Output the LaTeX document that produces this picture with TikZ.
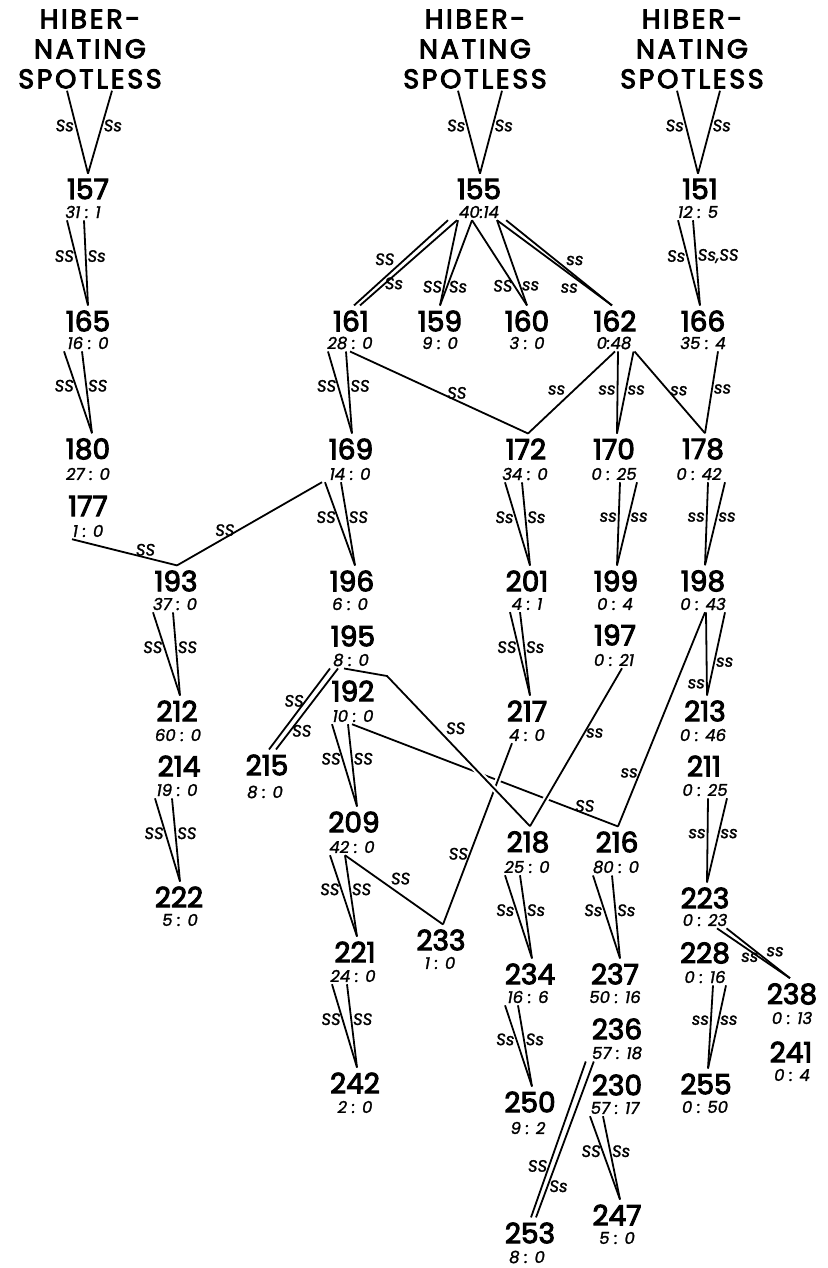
\documentclass[tikz,border=0pt]{standalone}
\usepackage{fontspec}
\newfontfamily\lettering[FakeBold=3.5]{Poppins}
\newfontfamily\slantfont[FakeBold=1.5]{Poppins}
\newfontfamily\titlefont[LetterSpace=10, FakeBold=3.5]{Poppins}
\usepackage{tikz}
\begin{document}
\begin{tikzpicture}[
    x=1pt, y=-1pt,
    num/.style={font=\lettering\fontsize{28}{28}\selectfont, inner sep=5pt},
    ratio/.style={font=\slantfont\itshape\fontsize{16.5}{16.5}\selectfont, inner sep=2pt},
    lab/.style={font=\slantfont\itshape\fontsize{16.5}{16.5}\selectfont, inner sep=1pt},
    title/.style={font=\titlefont\fontsize{27}{30}\selectfont, align=center, inner sep=2pt},
    link/.style={line width=1.8pt},
    over/.style={preaction={draw=white, line width=6pt, shorten <=12pt, shorten >=12pt}}
  ]
    \useasboundingbox (0,0) rectangle (827,1268);
    % founders
    \node[title] (T1) at (90,49) {HIBER-\\NATING\\SPOTLESS};
    \node[title] (T2) at (475,49) {HIBER-\\NATING\\SPOTLESS};
    \node[title] (T3) at (692,49) {HIBER-\\NATING\\SPOTLESS};
    % litters
    \node[num] (n157) at (88,189) {157};
    \node[num] (n155) at (479,189) {155};
    \node[num] (n151) at (700,189) {151};
    \node[num] (n165) at (88,321) {165};
    \node[num] (n161) at (351,321) {161};
    \node[num] (n159) at (440,321) {159};
    \node[num] (n160) at (527,321) {160};
    \node[num] (n162) at (615,321) {162};
    \node[num] (n166) at (703,321) {166};
    \node[num] (n180) at (88,449) {180};
    \node[num] (n169) at (351,449) {169};
    \node[num] (n172) at (526,449) {172};
    \node[num] (n170) at (614,449) {170};
    \node[num] (n178) at (703,449) {178};
    \node[num] (n177) at (88,506) {177};
    \node[num] (n193) at (176,581) {193};
    \node[num] (n196) at (352,581) {196};
    \node[num] (n201) at (527,581) {201};
    \node[num] (n199) at (616,581) {199};
    \node[num] (n198) at (703,581) {198};
    \node[num] (n195) at (353,636) {195};
    \node[num] (n197) at (615,635) {197};
    \node[num] (n192) at (353,691) {192};
    \node[num] (n212) at (177,711) {212};
    \node[num] (n217) at (527,711) {217};
    \node[num] (n213) at (705,711) {213};
    \node[num] (n214) at (179,766) {214};
    \node[num] (n215) at (267,765) {215};
    \node[num] (n211) at (704,766) {211};
    \node[num] (n209) at (354,822) {209};
    \node[num] (n218) at (528,842) {218};
    \node[num] (n216) at (617,842) {216};
    \node[num] (n222) at (179,897) {222};
    \node[num] (n223) at (705,898) {223};
    \node[num] (n233) at (441,940) {233};
    \node[num] (n221) at (355,952) {221};
    \node[num] (n228) at (705,953) {228};
    \node[num] (n234) at (530,974) {234};
    \node[num] (n237) at (615,974) {237};
    \node[num] (n238) at (792,994) {238};
    \node[num] (n236) at (617,1029) {236};
    \node[num] (n241) at (791,1052) {241};
    \node[num] (n242) at (355,1083) {242};
    \node[num] (n250) at (530,1102) {250};
    \node[num] (n230) at (617,1085) {230};
    \node[num] (n255) at (706,1084) {255};
    \node[num] (n247) at (617,1215) {247};
    \node[num] (n253) at (530,1233) {253};
    % ratios
    \node[ratio] (r157) at (83,212) {31 : 1};
    \node[ratio] (r155) at (479,212) {40:14};
    \node[ratio] (r151) at (698,212) {12 : 5};
    \node[ratio] (r165) at (88,343) {16 : 0};
    \node[ratio] (r161) at (350,343) {28 : 0};
    \node[ratio] (r159) at (440,343) {9 : 0};
    \node[ratio] (r160) at (527,343) {3 : 0};
    \node[ratio] (r162) at (614,343) {0:48};
    \node[ratio] (r166) at (703,343) {35 : 4};
    \node[ratio] (r180) at (88,474) {27 : 0};
    \node[ratio] (r169) at (350,474) {14 : 0};
    \node[ratio] (r172) at (525,474) {34 : 0};
    \node[ratio] (r170) at (614,474) {0 : 25};
    \node[ratio] (r178) at (699,474) {0 : 42};
    \node[ratio] (r177) at (88,531) {1 : 0};
    \node[ratio] (r193) at (175,604) {37 : 0};
    \node[ratio] (r196) at (350,604) {6 : 0};
    \node[ratio] (r201) at (527,604) {4 : 1};
    \node[ratio] (r199) at (615,604) {0 : 4};
    \node[ratio] (r198) at (703,604) {0 : 43};
    \node[ratio] (r195) at (351,660) {8 : 0};
    \node[ratio] (r197) at (614,660) {0 : 21};
    \node[ratio] (r192) at (353,716) {10 : 0};
    \node[ratio] (r212) at (178,735) {60 : 0};
    \node[ratio] (r217) at (527,735) {4 : 0};
    \node[ratio] (r213) at (703,735) {0 : 46};
    \node[ratio] (r214) at (177,790) {19 : 0};
    \node[ratio] (r215) at (265,792) {8 : 0};
    \node[ratio] (r211) at (705,790) {0 : 25};
    \node[ratio] (r209) at (352,847) {42 : 0};
    \node[ratio] (r218) at (527,867) {25 : 0};
    \node[ratio] (r216) at (616,867) {80 : 0};
    \node[ratio] (r222) at (180,920) {5 : 0};
    \node[ratio] (r223) at (705,920) {0 : 23};
    \node[ratio] (r233) at (440,963) {1 : 0};
    \node[ratio] (r221) at (353,976) {24 : 0};
    \node[ratio] (r228) at (705,977) {0 : 16};
    \node[ratio] (r234) at (528,997) {16 : 6};
    \node[ratio] (r237) at (615,997) {50 : 16};
    \node[ratio] (r238) at (792,1018) {0 : 13};
    \node[ratio] (r236) at (617,1053) {57 : 18};
    \node[ratio] (r241) at (792,1075) {0 : 4};
    \node[ratio] (r242) at (355,1107) {2 : 0};
    \node[ratio] (r250) at (528,1128) {9 : 2};
    \node[ratio] (r230) at (615,1108) {57 : 17};
    \node[ratio] (r255) at (705,1107) {0 : 50};
    \node[ratio] (r247) at (617,1238) {5 : 0};
    \node[ratio] (r253) at (527,1257) {8 : 0};
    % founders to first litters
    \draw[link] ([xshift=-23pt]T1.south) -- node[lab, left, pos=.42] (a157) {Ss} (n157.north);
    \draw[link] ([xshift=22pt]T1.south) -- node[lab, right, pos=.42] (b157) {Ss} (n157.north);
    \draw[link] ([xshift=-17pt]T2.south) -- node[lab, left, pos=.42] (a155) {Ss} ([xshift=1pt]n155.north);
    \draw[link] ([xshift=27pt]T2.south) -- node[lab, right, pos=.42] (b155) {Ss} ([xshift=1pt]n155.north);
    \draw[link] ([xshift=-15pt]T3.south) -- node[lab, left, pos=.42] (a151) {Ss} ([xshift=-2pt]n151.north);
    \draw[link] ([xshift=28pt]T3.south) -- node[lab, right, pos=.42] (b151) {Ss} ([xshift=-2pt]n151.north);
    % left line
    \draw[link] ([xshift=-16pt]r157.south) -- node[lab, left, pos=.42] (a165) {SS} (n165.north);
    \draw[link] ([xshift=1pt]r157.south) -- node[lab, right, pos=.42] (b165) {Ss} (n165.north);
    \draw[link] ([xshift=-24pt]r165.south) -- node[lab, left, pos=.42] (a180) {SS} ([xshift=4pt]n180.north);
    \draw[link] ([xshift=-6pt]r165.south) -- node[lab, right, pos=.42] (b180) {SS} ([xshift=4pt]n180.north);
    \draw[link] ([xshift=-16pt]r177.south) -- node[lab, above, pos=.7] (a193) {SS} ([xshift=1pt]n193.north);
    \draw[link] ([xshift=-28pt]r169.south) -- node[lab, above, pos=.67] (b193) {SS} ([xshift=1pt]n193.north);
    \draw[link] ([xshift=-22pt]r193.south) -- node[lab, left, pos=.42] (a212) {SS} ([xshift=3pt]n212.north);
    \draw[link] ([xshift=-2pt]r193.south) -- node[lab, right, pos=.42] (b212) {SS} ([xshift=3pt]n212.north);
    \draw[link] ([xshift=-22pt]r214.south) -- node[lab, left, pos=.42] (a222) {SS} ([xshift=1pt]n222.north);
    \draw[link] ([xshift=-5pt]r214.south) -- node[lab, right, pos=.42] (b222) {SS} ([xshift=1pt]n222.north);
    % offspring of 155
    \draw[link] ([xshift=-31pt]r155.south) -- node[lab, above left, pos=.55] (a161) {SS} ([xshift=3pt]n161.north);
    \draw[link] ([xshift=-22pt]r155.south) -- node[lab, below, pos=.65] (b161) {Ss} ([xshift=9pt]n161.north);
    \draw[link] ([xshift=-21pt]r155.south) -- node[lab, left, pos=.78] (a159) {SS} (n159.north);
    \draw[link] ([xshift=-7pt]r155.south) -- node[lab, right, pos=.78] (b159) {Ss} (n159.north);
    \draw[link] ([xshift=-7pt]r155.south) -- node[lab, left, pos=.77] (a160) {SS} (n160.north);
    \draw[link] ([xshift=18pt]r155.south) -- node[lab, right, pos=.77] (b160) {ss} (n160.north);
    \draw[link] ([xshift=18pt]r155.south) -- node[lab, below left, pos=.72] (a162) {ss} ([xshift=-3pt]n162.north);
    \draw[link] ([xshift=5pt]r155.south east) -- node[lab, above right, pos=.55] (b162) {ss} ([xshift=-3pt]n162.north);
    \draw[link] ([xshift=-20pt]r151.south) -- node[lab, left, pos=.42] (a166) {Ss} ([xshift=-3pt]n166.north);
    \draw[link] ([xshift=-5pt]r151.south) -- node[lab, right, pos=.42] (b166) {Ss,SS} ([xshift=-3pt]n166.north);
    % third row
    \draw[link] ([xshift=-22pt]r161.south) -- node[lab, left, pos=.42] (a169) {SS} ([xshift=1pt]n169.north);
    \draw[link] ([xshift=-4pt]r161.south) -- node[lab, right, pos=.42] (b169) {SS} ([xshift=1pt]n169.north);
    \draw[link] (r161.south) -- node[lab, above, pos=.6] (a172) {SS} ([xshift=2pt]n172.north);
    \draw[link] ([xshift=1pt]r162.south) -- node[lab, above left, pos=.55] (b172) {ss} ([xshift=2pt]n172.north);
    \draw[link] ([xshift=4pt]r162.south) -- node[lab, left, pos=.47] (a170) {ss} ([xshift=3pt]n170.north);
    \draw[link] (r162.south east) -- node[lab, right, pos=.47] (b170) {ss} ([xshift=3pt]n170.north);
    \draw[link] ([xshift=1pt]r162.south east) -- node[lab, right, pos=.48] (a178) {ss} ([xshift=2pt]n178.north);
    \draw[link] ([xshift=15pt]r166.south) -- node[lab, right, pos=.46] (b178) {ss} ([xshift=2pt]n178.north);
    % fourth row
    \draw[link] ([xshift=-25pt]r169.south) -- node[lab, left, pos=.42] (a196) {SS} ([xshift=3pt]n196.north);
    \draw[link] ([xshift=-9pt]r169.south) -- node[lab, right, pos=.42] (b196) {SS} ([xshift=3pt]n196.north);
    \draw[link] ([xshift=-20pt]r172.south) -- node[lab, left, pos=.42] (a201) {Ss} ([xshift=3pt]n201.north);
    \draw[link] ([xshift=-3pt]r172.south) -- node[lab, right, pos=.42] (b201) {Ss} ([xshift=3pt]n201.north);
    \draw[link] ([xshift=6pt]r170.south) -- node[lab, left, pos=.42] (a199) {ss} ([xshift=1pt]n199.north);
    \draw[link] ([xshift=23pt]r170.south) -- node[lab, right, pos=.42] (b199) {ss} ([xshift=1pt]n199.north);
    \draw[link] ([xshift=9pt]r178.south) -- node[lab, left, pos=.42] (a198) {ss} ([xshift=2pt]n198.north);
    \draw[link] ([xshift=26pt]r178.south) -- node[lab, right, pos=.42] (b198) {ss} ([xshift=2pt]n198.north);
    % middle
    \draw[link] ([xshift=-17pt]r201.south) -- node[lab, left, pos=.42] (a217) {SS} ([xshift=3pt]n217.north);
    \draw[link] ([xshift=-7pt]r201.south) -- node[lab, right, pos=.42] (b217) {Ss} ([xshift=3pt]n217.north);
    \draw[link] ([xshift=3pt]r198.south) -- node[lab, left, pos=.86] (a213) {ss} ([xshift=2pt]n213.north);
    \draw[link] ([xshift=22pt]r198.south) -- node[lab, right, pos=.6] (b213) {ss} ([xshift=2pt]n213.north);
    \draw[link] ([xshift=2pt]r198.south) -- node[lab, left, pos=.75] (b216) {ss} ([xshift=1pt]n216.north);
    \draw[link] ([xshift=-21pt]r195.south) -- node[lab, left, pos=.4] (a215) {SS} ([xshift=2pt]n215.north);
    \draw[link] ([xshift=-13pt]r195.south) -- node[lab, right, pos=.77] (b215) {SS} ([xshift=9pt]n215.north);
    \draw[link] ([xshift=-21pt]r192.south) -- node[lab, left, pos=.42] (a209) {SS} ([xshift=3pt]n209.north);
    \draw[link] ([xshift=-5pt]r192.south) -- node[lab, right, pos=.42] (b209) {SS} ([xshift=3pt]n209.north);
    % crossing lines
    \coordinate (k195) at (387,676);
    \draw[link] ([xshift=-1pt]r192.south) -- node[lab, above, pos=.875] (a216) {SS} ([xshift=1pt]n216.north);
    \draw[link, over] ([xshift=2pt]n233.north) -- node[lab, left, pos=.39] (a217x) {SS} ([xshift=-15pt]r217.south);
    \draw[link, over] ([xshift=-7pt]r195.south) -- (k195) -- node[lab, above right, pos=.4] (a218) {SS} ([xshift=2pt]n218.north);
    \draw[link, over] ([xshift=8pt]r197.south) -- node[lab, right, pos=.41] (b218) {ss} ([xshift=2pt]n218.north);
    % lower part
    \draw[link] ([xshift=-22pt]r209.south) -- node[lab, left, pos=.42] (a221) {SS} ([xshift=2pt]n221.north);
    \draw[link] ([xshift=-7pt]r209.south) -- node[lab, right, pos=.42] (b221) {SS} ([xshift=2pt]n221.north);
    \draw[link] ([xshift=-7pt]r209.south) -- node[lab, above right, pos=.45] (a233) {SS} ([xshift=2pt]n233.north);
    \draw[link] ([xshift=-21pt]r221.south) -- node[lab, left, pos=.42] (a242) {SS} ([xshift=2pt]n242.north);
    \draw[link] ([xshift=-6pt]r221.south) -- node[lab, right, pos=.42] (b242) {SS} ([xshift=2pt]n242.north);
    \draw[link] ([xshift=-22pt]r218.south) -- node[lab, left, pos=.42] (a234) {Ss} ([xshift=2pt]n234.north);
    \draw[link] ([xshift=-7pt]r218.south) -- node[lab, right, pos=.42] (b234) {Ss} ([xshift=2pt]n234.north);
    \draw[link] ([xshift=-23pt]r216.south) -- node[lab, left, pos=.42] (a237) {Ss} ([xshift=5pt]n237.north);
    \draw[link] ([xshift=-4pt]r216.south) -- node[lab, right, pos=.42] (b237) {Ss} ([xshift=5pt]n237.north);
    \draw[link] ([xshift=3pt]r211.south) -- node[lab, left, pos=.42] (a223) {ss} ([xshift=2pt]n223.north);
    \draw[link] ([xshift=22pt]r211.south) -- node[lab, right, pos=.42] (b223) {ss} ([xshift=2pt]n223.north);
    \draw[link] ([xshift=12pt]r223.south) -- node[lab, below, pos=.45] (a238) {ss} ([xshift=-2pt]n238.north);
    \draw[link] ([xshift=-3pt]r223.south east) -- node[lab, above right, pos=.6] (b238) {ss} ([xshift=-2pt]n238.north);
    \draw[link] ([xshift=8pt]r228.south) -- node[lab, left, pos=.42] (a255) {ss} ([xshift=2pt]n255.north);
    \draw[link] ([xshift=21pt]r228.south) -- node[lab, right, pos=.42] (b255) {ss} ([xshift=2pt]n255.north);
    \draw[link] ([xshift=-23pt]r234.south) -- node[lab, left, pos=.42] (a250) {Ss} ([xshift=2pt]n250.north);
    \draw[link] ([xshift=-10pt]r234.south) -- node[lab, right, pos=.42] (b250) {Ss} ([xshift=2pt]n250.north);
    \draw[link] ([xshift=-4pt]r236.south west) -- node[lab, left, pos=.67] (a253) {SS} ([xshift=1pt]n253.north);
    \draw[link] ([xshift=4pt]r236.south west) -- node[lab, right, pos=.8] (b253) {Ss} ([xshift=6pt]n253.north);
    \draw[link] ([xshift=-25pt]r230.south) -- node[lab, left, pos=.42] (a247) {SS} ([xshift=3pt]n247.north);
    \draw[link] ([xshift=-12pt]r230.south) -- node[lab, right, pos=.42] (b247) {Ss} ([xshift=3pt]n247.north);
  \end{tikzpicture}
\end{document}
